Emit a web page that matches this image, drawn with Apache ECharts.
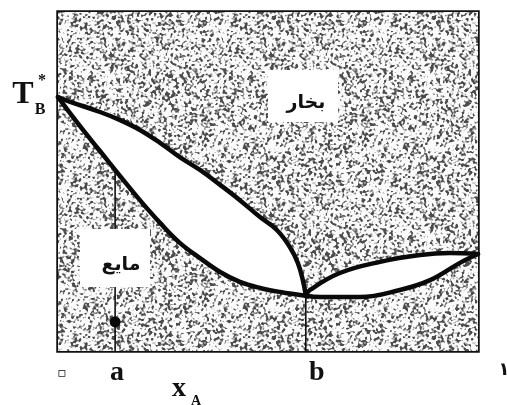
<!DOCTYPE html>
<html>
<head>
<meta charset="utf-8">
<script src="https://cdn.jsdelivr.net/npm/echarts@6/dist/echarts.min.js"></script>
<style>
  html, body { margin: 0; padding: 0; background: #fff; }
  #chart { width: 507px; height: 405px; }
</style>
</head>
<body>
<div id="chart"></div>
<script>
// Temperature–composition diagram with a minimum-boiling azeotrope at x_A = b.
// Temperature is on an arbitrary 0–100 scale, composition is mole fraction of A.

// Left loop: dew (vapour) curve above, bubble (liquid) curve below
const dewLeft = [[0, 74.9], [0.029, 73.5], [0.100, 70.5], [0.148, 68.1], [0.195, 65.2],
  [0.243, 61.4], [0.290, 57.2], [0.338, 53.4], [0.386, 49.0], [0.433, 44.5], [0.481, 39.5],
  [0.521, 35.7], [0.552, 30.7], [0.571, 26.0], [0.583, 20.9], [0.590, 16.3]];
const bubbleLeft = [[0, 74.9], [0.052, 66.4], [0.100, 59.0], [0.148, 51.6], [0.195, 44.5],
  [0.243, 37.8], [0.290, 31.9], [0.338, 27.4], [0.386, 23.3], [0.433, 20.4], [0.481, 18.6],
  [0.529, 17.4], [0.590, 16.3]];

// Right loop: from the azeotrope to pure A
const dewRight = [[0.590, 16.3], [0.600, 18.0], [0.671, 23.0], [0.767, 26.3], [0.862, 28.3],
  [0.933, 28.9], [1.0, 28.6]];
const bubbleRight = [[0.590, 16.3], [0.624, 15.9], [0.719, 15.9], [0.814, 18.0], [0.886, 20.9],
  [0.957, 26.0], [1.0, 28.6]];

// Marked compositions and the state point on the isopleth at a
const A_X = 0.136;
const B_X = 0.590;
const A_TOP = 53.4;      // where the isopleth at a meets the bubble curve
const AZEO_T = 16.3;     // azeotrope temperature
const STATE_POINT = [[A_X, 8.6]];

const xTickValues = [0, A_X, B_X, 1];
const xTickText = ['۰', 'a', 'b', '۱'];

// Speckled grey texture for the single-phase regions (fixed seed, so it never changes)
function speckleTexture() {
  const n = 160;
  const cv = document.createElement('canvas');
  cv.width = cv.height = n;
  const ctx = cv.getContext('2d');
  const img = ctx.createImageData(n, n);
  let a = 1779033703;
  const next = () => {
    a |= 0; a = (a + 0x6D2B79F5) | 0;
    let t = Math.imul(a ^ (a >>> 15), 1 | a);
    t = (t + Math.imul(t ^ (t >>> 7), 61 | t)) ^ t;
    return ((t ^ (t >>> 14)) >>> 0) / 4294967296;
  };
  const raw = new Float32Array(n * n);
  for (let i = 0; i < n * n; i++) raw[i] = next();
  for (let y = 0; y < n; y++) {
    for (let x = 0; x < n; x++) {
      let sum = 0;
      for (let dy = -1; dy <= 1; dy++) {
        for (let dx = -1; dx <= 1; dx++) {
          const w = (dx === 0 ? 2 : 1) * (dy === 0 ? 2 : 1);
          sum += w * raw[((y + dy + n) % n) * n + ((x + dx + n) % n)];
        }
      }
      const v = sum / 16;
      const t = Math.min(1, Math.max(0, (v - 0.5) / 0.15));
      const g = Math.round(250 - 175 * t);
      const k = (y * n + x) * 4;
      img.data[k] = img.data[k + 1] = img.data[k + 2] = g;
      img.data[k + 3] = 255;
    }
  }
  ctx.putImageData(img, 0, 0);
  return cv;
}
const speckle = { image: speckleTexture(), repeat: 'repeat' };

function areaSeries(data, fill) {
  return {
    type: 'line', data: data, smooth: 0.4, showSymbol: false, silent: true,
    lineStyle: { width: 0, opacity: 0 },
    areaStyle: { color: fill, opacity: 1 }
  };
}
function curveSeries(data) {
  return {
    type: 'line', data: data, smooth: 0.4, showSymbol: false, silent: true,
    lineStyle: { width: 4.5, color: '#0a0a0a', cap: 'round', join: 'round' }
  };
}

const chart = echarts.init(document.getElementById('chart'), null, { renderer: 'canvas' });
chart.setOption({
  animation: false,
  backgroundColor: '#fff',
  grid: {
    left: 58, right: 29, top: 12, bottom: 54,
    containLabel: false, outerBoundsMode: 'none',
    show: true, borderColor: '#111', borderWidth: 3.5, backgroundColor: 'transparent'
  },
  xAxis: {
    type: 'value', min: 0, max: 1,
    axisLine: { show: false }, axisTick: { show: false }, splitLine: { show: false },
    axisLabel: {
      show: true, customValues: xTickValues, margin: 8, hideOverlap: false,
      showMinLabel: true, showMaxLabel: true,
      formatter: function (v) {
        const i = xTickValues.indexOf(v);
        const t = xTickText[i];
        if (i === 0) return '{z|' + t + '}';
        if (i === 2) return '{b|' + t + '}';
        if (i === 3) return '{o|' + t + '}';
        return '{l|' + t + '}';
      },
      rich: {
        z: { fontFamily: 'DejaVu Sans', fontWeight: 'bold', fontSize: 30, color: '#fff',
             textBorderColor: '#222', textBorderWidth: 1.6, padding: [0, 0, 0, 8] },
        l: { fontFamily: 'Liberation Serif', fontWeight: 'bold', fontSize: 28, color: '#111', padding: [0, 0, 0, 4] },
        b: { fontFamily: 'Liberation Serif', fontWeight: 'bold', fontSize: 28, color: '#111', padding: [0, 0, 0, 22] },
        o: { fontFamily: 'DejaVu Sans', fontWeight: 'bold', fontSize: 18, color: '#111', padding: [2, 0, 0, 52] }
      }
    }
  },
  yAxis: {
    type: 'value', min: 0, max: 100,
    axisLine: { show: false }, axisTick: { show: false }, splitLine: { show: false },
    axisLabel: { show: false }
  },
  series: [
    // speckled background over the whole field
    areaSeries([[0, 100], [1, 100]], speckle),
    // two-phase loops are left blank
    areaSeries(dewLeft, '#fff'),
    areaSeries(bubbleLeft, speckle),
    areaSeries(dewRight, '#fff'),
    areaSeries(bubbleRight, speckle),
    // isopleths at a and b
    {
      type: 'line', data: [[A_X, 0], [A_X, A_TOP]], showSymbol: false, silent: true,
      lineStyle: { width: 1.6, color: '#111' }
    },
    {
      type: 'line', data: [[B_X, 0], [B_X, AZEO_T]], showSymbol: false, silent: true,
      lineStyle: { width: 1.6, color: '#111' }
    },
    curveSeries(dewLeft),
    curveSeries(bubbleLeft),
    curveSeries(dewRight),
    curveSeries(bubbleRight),
    {
      type: 'scatter', data: STATE_POINT, symbol: 'circle', symbolSize: 11, silent: true, z: 5,
      itemStyle: { color: '#0a0a0a', opacity: 1 }
    }
  ],
  graphic: [
    { type: 'rect', z: 100, shape: { x: 268, y: 70, width: 70, height: 52 }, style: { fill: '#fff' } },
    { type: 'text', z: 101, x: 306, y: 103,
      style: { text: 'بخار', font: 'bold 19px "DejaVu Sans"', fill: '#111', align: 'center', verticalAlign: 'middle' } },
    { type: 'rect', z: 100, shape: { x: 80, y: 229, width: 70, height: 58 }, style: { fill: '#fff' } },
    { type: 'text', z: 101, x: 121, y: 265,
      style: { text: 'مایع', font: 'bold 19px "DejaVu Sans"', fill: '#111', align: 'center', verticalAlign: 'middle' } },
    { type: 'text', z: 101, x: 23, y: 95,
      style: { text: 'T', font: 'bold 32px "Liberation Serif"', fill: '#111', align: 'center', verticalAlign: 'middle' } },
    { type: 'text', z: 101, x: 40, y: 110,
      style: { text: 'B', font: 'bold 16px "Liberation Serif"', fill: '#111', align: 'center', verticalAlign: 'middle' } },
    { type: 'text', z: 101, x: 42, y: 81,
      style: { text: '*', font: 'bold 16px "Liberation Serif"', fill: '#111', align: 'center', verticalAlign: 'middle' } },
    { type: 'text', z: 101, x: 179, y: 389,
      style: { text: 'x', font: 'bold 28px "Liberation Serif"', fill: '#111', align: 'center', verticalAlign: 'middle' } },
    { type: 'text', z: 101, x: 196, y: 401,
      style: { text: 'A', font: 'bold 14px "Liberation Serif"', fill: '#111', align: 'center', verticalAlign: 'middle' } }
  ]
});
</script>
</body>
</html>
